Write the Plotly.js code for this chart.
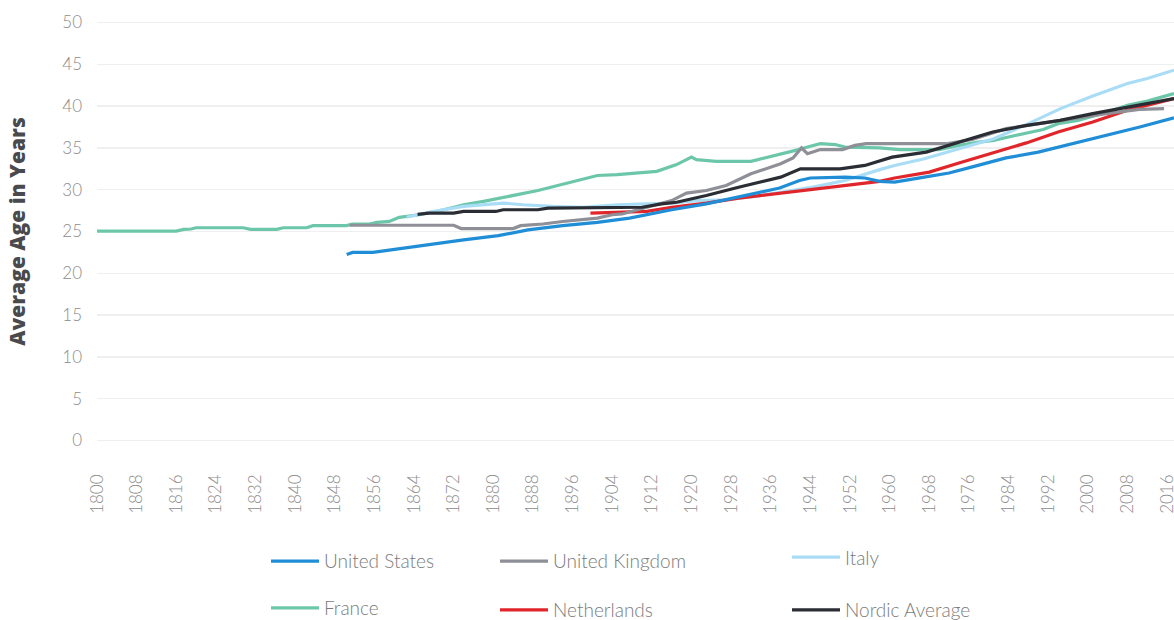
<!DOCTYPE html>
<html>
<head>
<meta charset="utf-8">
<script src="https://cdn.plot.ly/plotly-3.0.1.min.js"></script>
<style>html,body{margin:0;padding:0;background:#fff;}#chart{width:1174px;height:620px;}</style>
</head>
<body>
<div id="chart"></div>
<script>
// ---- data ----
var tickYears = [1800,1808,1816,1824,1832,1840,1848,1856,1864,1872,1880,1888,1896,1904,1912,1920,1928,1936,1944,1952,1960,1968,1976,1984,1992,2000,2008,2016];
var tickLabels = ["1800","1808","1816","1824","1832","1840","1848","1856","1864","1872","1880","1888","1896","1904","1912","1920","1928","1936","1944","1952","1960","1968","1976","1984","1992","2000","2008","2016"];

var franceYears = [1800,1816,1817.5,1819,1820,1829.5,1831,1836.3,1837.6,1842.3,1843.6,1850.4,1851.5,1855,1856.5,1859,1861,1865,1870,1874,1878,1882,1886,1889,1893,1897,1901,1905,1910,1913,1917,1920,1921,1925,1932,1937,1941,1944,1946,1949,1951,1958,1962,1970,1974,1978,1981,1984,1988,1991,1994,1998,2001,2004,2008,2012,2017.4];
var franceAge   = [25.05,25.05,25.25,25.3,25.45,25.45,25.25,25.25,25.45,25.45,25.7,25.7,25.9,25.9,26.1,26.2,26.7,27.0,27.6,28.2,28.6,29.1,29.6,29.9,30.5,31.1,31.7,31.8,32.0,32.2,33.0,33.9,33.6,33.4,33.4,34.1,34.7,35.2,35.5,35.4,35.1,35.0,34.8,34.8,35.3,35.7,35.9,36.3,36.8,37.2,37.9,38.3,38.8,39.3,40.1,40.6,41.5];

var ukYears = [1851,1872,1873.5,1884,1885.5,1890,1894,1897.4,1901,1904,1906,1911,1916,1919,1923,1927,1932,1938,1940.5,1942.2,1943.4,1946,1950.5,1953,1955.3,1971.4,1976.7,1983.5,1990,1997,2003.7,2010.4,2015.4];
var ukAge   = [25.75,25.75,25.35,25.35,25.7,25.9,26.2,26.4,26.6,27.0,27.1,27.9,28.7,29.6,29.9,30.5,31.9,33.1,33.8,35.0,34.3,34.8,34.8,35.3,35.5,35.5,36.0,37.3,37.9,38.5,39.1,39.6,39.7];

var usYears = [1850.4,1851.6,1855.7,1860.5,1867,1874,1881,1887,1894,1901,1907.5,1911,1916,1923,1929.5,1937.8,1941.8,1944,1951,1955,1958,1961,1967,1972,1976.5,1983.5,1990,1997,2004,2010.5,2017.4];
var usAge   = [22.25,22.5,22.5,22.9,23.4,24.0,24.5,25.2,25.7,26.1,26.6,27.0,27.6,28.3,29.1,30.2,31.1,31.4,31.5,31.4,31.0,30.9,31.5,32.0,32.7,33.8,34.5,35.5,36.5,37.5,38.6];

var nlYears = [1899.6,1911,1916,1923,1929.5,1938,1944.5,1951,1958,1961,1968,1974,1981,1987.6,1994,2001,2008,2017.4];
var nlAge   = [27.2,27.4,27.9,28.4,29.0,29.6,30.1,30.5,31.0,31.4,32.1,33.2,34.4,35.6,36.9,38.1,39.5,40.9];

var italyYears = [1862.5,1867,1874,1882,1886,1892,1898,1905,1911,1916,1921,1927,1933,1938,1944.5,1951,1954,1958,1961,1967,1974,1981,1988,1994.5,2001,2008,2012,2017.4];
var italyAge   = [26.7,27.3,28.0,28.4,28.2,28.0,27.9,28.2,28.3,28.4,28.7,28.8,29.2,29.7,30.3,31.1,31.7,32.4,32.9,33.7,34.9,36.1,37.9,39.7,41.2,42.7,43.3,44.3];

var nordicYears = [1864.7,1867,1872,1874,1880.5,1882,1889,1891,1910,1914,1917,1923,1929.5,1938,1942,1950,1955,1958,1960.5,1967.4,1974,1980.8,1987.7,1994.4,2001,2008,2017.4];
var nordicAge   = [27.05,27.2,27.2,27.4,27.4,27.6,27.6,27.8,27.9,28.3,28.5,29.3,30.3,31.5,32.5,32.5,32.9,33.4,33.9,34.5,35.7,36.9,37.7,38.3,39.1,39.9,40.9];

var seriesNames = ["France","Italy","Netherlands","United States","United Kingdom","Nordic Average"];
var seriesColors = ["#6cc7aa","#a9ddf6","#e1262b","#1f8ed6","#8e8f97","#2a2d33"];
var seriesX = [franceYears, italyYears, nlYears, usYears, ukYears, nordicYears];
var seriesY = [franceAge, italyAge, nlAge, usAge, ukAge, nordicAge];
var seriesLegend = ["legend4","legend3","legend5","legend","legend2","legend6"];

var traces = seriesNames.map(function(n,i){
  return {x: seriesX[i], y: seriesY[i], name: n, type: 'scatter', mode: 'lines',
          line: {color: seriesColors[i], width: 3.2, shape: 'linear'},
          legend: seriesLegend[i], hoverinfo: 'x+y+name'};
});

var legFont = {family: 'Lato, "Open Sans", sans-serif', size: 19, color: '#7b7b7b', weight: 300};
function leg(px, py){
  return {x: px, y: py, xanchor: 'left', yanchor: 'middle', orientation: 'v',
          itemwidth: 48,
          bgcolor: 'rgba(0,0,0,0)', borderwidth: 0, font: legFont};
}
// plot area: left 97px, width 1077px; top 19.5px, height 424px
function lx(pix){ return (pix - 97) / 1077; }
function ly(pix){ return (443.5 - pix) / 424; }

var layout = {
  width: 1174, height: 620,
  margin: {l: 97, r: 0, t: 19.5, b: 176.5, pad: 0, autoexpand: false},
  paper_bgcolor: '#ffffff', plot_bgcolor: '#ffffff',
  showlegend: true,
  xaxis: {
    type: 'linear', range: [1800, 2017.4],
    tickmode: 'array', tickvals: tickYears, ticktext: tickLabels,
    tickangle: -90, showgrid: false, zeroline: false, showline: false, ticks: '',
    ticklabelstandoff: 27, ticklabeloverflow: 'allow',
    tickfont: {family: 'Lato, "Open Sans", sans-serif', size: 17, color: '#8c8c8c', weight: 300}
  },
  yaxis: {
    range: [-0.3, 50.3], dtick: 5, tick0: 0,
    showgrid: true, gridcolor: '#efefef', gridwidth: 1.5,
    zeroline: false, showline: false, ticks: '',
    ticklabelstandoff: 14,
    tickfont: {family: 'Lato, "Open Sans", sans-serif', size: 17, color: '#8c8c8c', weight: 300},
    title: {text: 'Average Age in Years', standoff: 30,
            font: {family: '"Open Sans", Lato, sans-serif', size: 21, color: '#4a4a4c', weight: 800}}
  },
  legend:  leg(lx(266), ly(562)),
  legend2: leg(lx(495), ly(562)),
  legend3: leg(lx(787), ly(558)),
  legend4: leg(lx(266), ly(609)),
  legend5: leg(lx(495), ly(611)),
  legend6: leg(lx(787), ly(611))
};

Plotly.newPlot('chart', traces, layout, {displayModeBar: false, staticPlot: true});
</script>
</body>
</html>
